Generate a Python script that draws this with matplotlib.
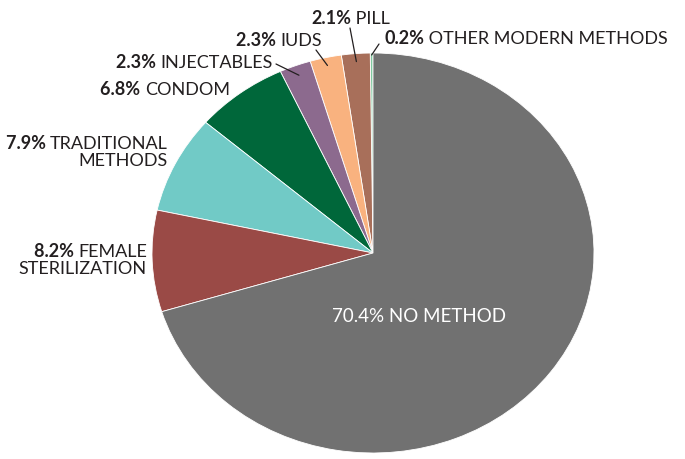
import matplotlib.pyplot as plt
import numpy as np

plt.rcParams['font.family'] = ['Lato', 'DejaVu Sans']

# data, in drawing order (counter-clockwise from 12 o'clock)
methods = ['OTHER MODERN METHODS', 'PILL', 'IUDS', 'INJECTABLES', 'CONDOM',
           'TRADITIONAL\nMETHODS', 'FEMALE\nSTERILIZATION', 'NO METHOD']
shares = [0.2, 2.1, 2.3, 2.3, 6.8, 7.9, 8.2, 70.4]
colors = ['#7fc8a0', '#a86f5a', '#f9b27f', '#8c6a8e', '#00673a',
          '#71cac6', '#9a4a46', '#717171']

W, H = 685, 459
FS = 13
TXT = '#231f20'

fig = plt.figure(figsize=(W / 100, H / 100), dpi=100)

# pie is slightly wider than tall in the reference
cx, cy, rx, ry = 373, 253, 221, 200
ax = fig.add_axes([(cx - rx) / W, 1 - (cy + ry) / H, 2 * rx / W, 2 * ry / H])
wedges, _ = ax.pie(shares, colors=colors, startangle=90, counterclock=True,
                   wedgeprops=dict(edgecolor='white', linewidth=0.6))
ax.set_aspect('auto')
ax.set_xlim(-1, 1)
ax.set_ylim(-1, 1)


def fpos(px, py):
    # pixel (top-left origin) -> figure fraction
    return (px / W, 1 - py / H)


def label(i, x, y, ha, leader=None, r=0.96):
    pct = f'{shares[i]:.1f}%'
    lines = methods[i].split('\n')
    if ha == 'left':
        t1 = fig.text(*fpos(x, y), pct, fontsize=FS, fontweight='bold', color=TXT,
                      ha='left', va='center')
        last = ax.annotate(' ' + lines[0], xy=(1, 0), xycoords=t1, ha='left', va='bottom',
                           fontsize=FS, color=TXT)
    else:
        last = fig.text(*fpos(x, y), lines[0], fontsize=FS, color=TXT, ha='right', va='center')
        ax.annotate(pct + ' ', xy=(0, 0), xycoords=last, ha='right', va='bottom',
                    fontsize=FS, fontweight='bold', color=TXT)
    for ln in lines[1:]:
        last = ax.annotate(ln, xy=(1, 0), xycoords=last, xytext=(0, -1),
                           textcoords='offset points', ha='right', va='top',
                           fontsize=FS, color=TXT)
    if leader is not None:
        w = wedges[i]
        th = np.deg2rad((w.theta1 + w.theta2) / 2)
        ax.annotate('', xy=(r * np.cos(th), r * np.sin(th)), xycoords='data',
                    xytext=fpos(*leader), textcoords='figure fraction',
                    arrowprops=dict(arrowstyle='-', color=TXT, lw=0.9,
                                    shrinkA=0, shrinkB=0),
                    annotation_clip=False)


label(0, 384, 39, 'left', leader=(379, 44), r=0.99)
label(1, 311, 18, 'left', leader=(350, 28))
label(2, 322, 41, 'right', leader=(316, 50))
label(3, 273, 63, 'right', leader=(276, 64), r=0.95)
label(4, 230, 90, 'right')
label(5, 168, 144, 'right')
label(6, 147, 252, 'right')

fig.text(*fpos(419, 317), f'{shares[7]:.1f}% {methods[7]}', fontsize=FS + 0.5,
         color='white', ha='center', va='center')

fig.savefig('out.png', dpi=100)
